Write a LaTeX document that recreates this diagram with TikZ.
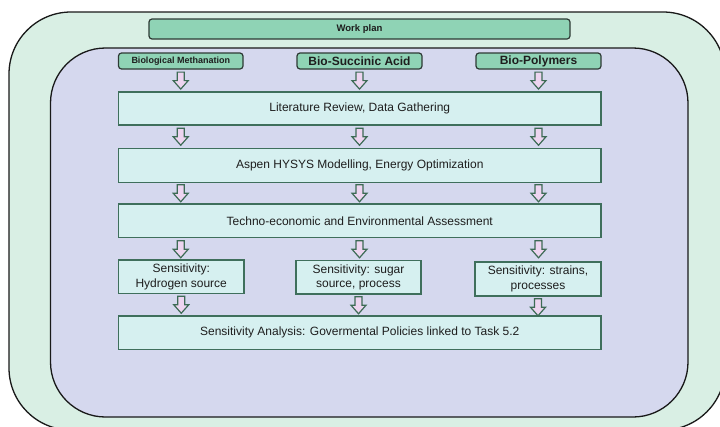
\documentclass[tikz,border=0pt]{standalone}
\usepackage{fontspec}
\setmainfont{Liberation Sans}
\usetikzlibrary{calc}

\definecolor{outerfill}{HTML}{D9EFE4}
\definecolor{innerfill}{HTML}{D5D8EE}
\definecolor{boxfill}{HTML}{D6F0F0}
\definecolor{boxline}{HTML}{3F6F5C}
\definecolor{headfill}{HTML}{8FD3B5}
\definecolor{headline}{HTML}{2E3A35}
\definecolor{arrowfill}{HTML}{EDD5F0}
\definecolor{arrowline}{HTML}{3D6B55}
\definecolor{textcol}{HTML}{1E1E1E}

\begin{document}
\begin{tikzpicture}[x=1pt,y=-1pt,
  stagebox/.style={draw=boxline, fill=boxfill, line width=1.5pt, inner sep=0pt,
    font=\fontsize{12}{14.5}\selectfont, text=textcol, align=center},
  headbox/.style={draw=headline, fill=headfill, line width=1.2pt, rounded corners=3pt,
    inner sep=0pt, text=textcol},
  frame/.style={draw=black!90, line width=1.3pt},
  dnarrow/.pic={
    \draw[fill=arrowfill, draw=arrowline, line width=1.2pt, line join=miter]
      (-3.5,0) -- (3.5,0) -- (3.5,8.5) -- (7.5,8.5) -- (0,17) -- (-7.5,8.5)
      -- (-3.5,8.5) -- cycle;
  }
]
\useasboundingbox (0,0) rectangle (720,426);

% nested background panels
\draw[frame, fill=outerfill, rounded corners=62pt] (9,12) rectangle (725,430);
\draw[frame, fill=innerfill, rounded corners=55pt] (50.5,48) rectangle (688,417);

% title and the three product headers
\node[headbox, minimum width=421pt, minimum height=20pt,
  font=\fontsize{9.5}{11}\selectfont\bfseries] (plan) at (359.5,29) {Work plan};
\node[headbox, minimum width=124.5pt, minimum height=16pt,
  font=\fontsize{9}{11}\selectfont\bfseries] (meth) at (180.75,61) {Biological Methanation};
\node[headbox, minimum width=125pt, minimum height=16pt,
  font=\fontsize{12}{14}\selectfont\bfseries] (succ) at (359.5,61) {Bio-Succinic Acid};
\node[headbox, minimum width=125pt, minimum height=16pt,
  font=\fontsize{12}{14}\selectfont\bfseries] (poly) at (538.5,61) {Bio-Polymers};

% work stages
\node[stagebox, minimum width=482.5pt, minimum height=33pt] (lit) at (359.75,108.5)
  {Literature Review, Data Gathering};
\node[stagebox, minimum width=482.5pt, minimum height=34pt] (aspen) at (359.75,165.5)
  {Aspen HYSYS Modelling, Energy Optimization};
\node[stagebox, minimum width=482.5pt, minimum height=33.5pt] (tea) at (359.75,220.75)
  {Techno-economic and Environmental Assessment};
\node[stagebox, minimum width=125.5pt, minimum height=33.5pt] (sens1) at (181.25,276.75)
  {Sensitivity:\\Hydrogen source};
\node[stagebox, minimum width=125pt, minimum height=33.5pt] (sens2) at (358.5,277.25)
  {Sensitivity: sugar\\source, process};
\node[stagebox, minimum width=126pt, minimum height=34pt] (sens3) at (538,279)
  {Sensitivity: strains,\\processes};
\node[stagebox, minimum width=482.5pt, minimum height=33.5pt] (final) at (359.75,332.75)
  {Sensitivity Analysis: Govermental Policies linked to Task 5.2};

% flow arrows between rows
\foreach \col/\s in {meth/sens1, succ/sens2, poly/sens3} {
  \pic at ($(\col.south)+(0,2.5)$) {dnarrow};
  \pic at ($(lit.south -| \col)+(0,2.5)$) {dnarrow};
  \pic at ($(aspen.south -| \col)+(0,1.5)$) {dnarrow};
  \pic at ($(tea.south -| \col)+(0,2.5)$) {dnarrow};
  \pic at ($(\s.south)+(0,2)$) {dnarrow};
}
\end{tikzpicture}
\end{document}
